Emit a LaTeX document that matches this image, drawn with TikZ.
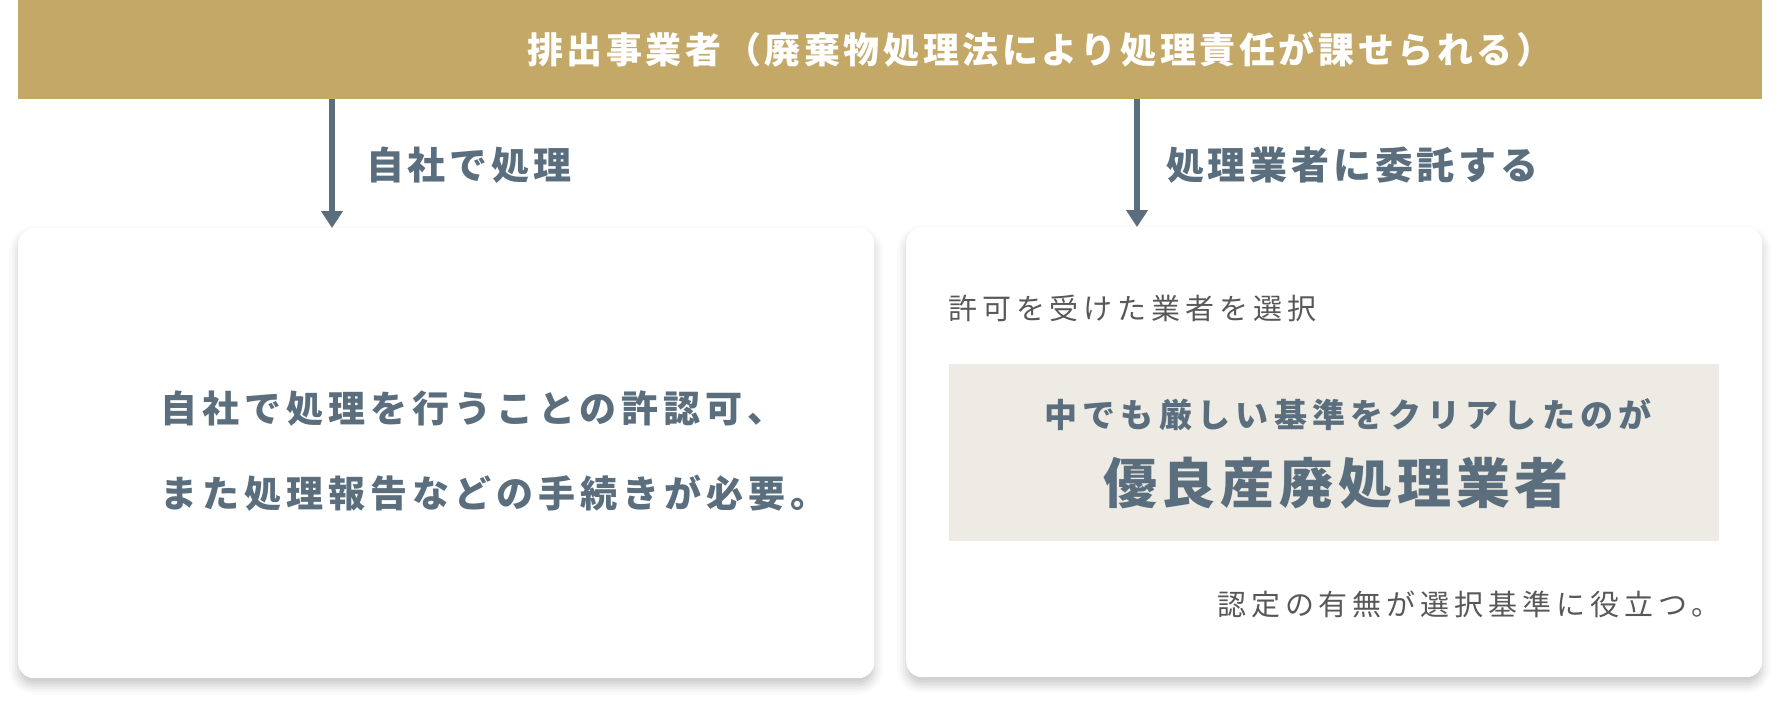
\documentclass[tikz,border=0pt]{standalone}
\usepackage{fontspec}
\usetikzlibrary{arrows.meta, positioning, shadows.blur}
\newfontfamily\jphead[LetterSpace=10]{Noto Sans CJK JP}
\newfontfamily\jplab[LetterSpace=10]{Noto Sans CJK JP}
\newfontfamily\jpbody[LetterSpace=13.5]{Noto Sans CJK JP}
\newfontfamily\jpnote[LetterSpace=17]{Noto Sans CJK JP}
\newfontfamily\jplead[LetterSpace=16]{Noto Sans CJK JP}
\newfontfamily\jpbig[LetterSpace=9]{Noto Sans CJK JP}
\definecolor{gold}{RGB}{196,168,103}
\definecolor{slate}{RGB}{91,110,125}
\definecolor{notegray}{RGB}{88,88,88}
\definecolor{sand}{RGB}{237,235,227}

\begin{document}
\begin{tikzpicture}[x=1pt, y=-1pt,
    card/.style={fill=white, rounded corners=16pt, anchor=north west,
        minimum width=856pt, minimum height=450pt,
        blur shadow={shadow xshift=0pt, shadow yshift=-7pt,
            shadow blur radius=9pt, shadow opacity=22}},
    flow/.style={draw=slate, line width=6pt, -{Triangle[width=21pt,length=17pt]}},
    txt/.style={inner sep=0pt, text=slate},
    branch/.style={txt, anchor=west, font=\jplab\bfseries\fontsize{38pt}{40pt}\selectfont},
    body/.style={txt, anchor=west, font=\jpbody\bfseries\fontsize{37pt}{40pt}\selectfont},
    note/.style={inner sep=0pt, text=notegray, anchor=west, font=\jpnote\fontsize{29pt}{31pt}\selectfont}]
    \useasboundingbox (0,0) rectangle (1780,702);

    \node[fill=gold, anchor=north west, minimum width=1744pt, minimum height=99pt, inner sep=0pt] (bar) at (18,0) {};
    \node[inner sep=0pt, anchor=west, text=white, font=\jphead\bfseries\fontsize{36pt}{38pt}\selectfont] (title) at (527,50)
        {排出事業者（廃棄物処理法により処理責任が課せられる）};

    \node[card] (own) at (18,228) {};
    \node[card] (firm) at (906,227) {};

    \coordinate (a1) at (332,0);
    \coordinate (a2) at (1137,0);
    \draw[flow] (bar.south -| a1) -- (own.north -| a1);
    \draw[flow] (bar.south -| a2) -- (firm.north -| a2);
    \node[branch] (ownlab) at (366,165) {自社で処理};
    \node[branch] (firmlab) at (1166,165) {処理業者に委託する};

    \node[body] (own1) at (160,409) {自社で処理を行うことの許認可、};
    \node[body] (own2) at (160,493) {また処理報告などの手続きが必要。};

    \node[note] (permit) at (948,308) {許可を受けた業者を選択};
    \node[fill=sand, anchor=north west, minimum width=770pt, minimum height=177pt, inner sep=0pt] (pick) at (949,364) {};
    \node[txt, font=\jplead\bfseries\fontsize{33pt}{35pt}\selectfont] (lead) at (1348,415) {中でも厳しい基準をクリアしたのが};
    \node[txt, font=\jpbig\bfseries\fontsize{54pt}{56pt}\selectfont] (best) at (1336,483) {優良産廃処理業者};
    \node[note] (merit) at (1217,604) {認定の有無が選択基準に役立つ。};
\end{tikzpicture}
\end{document}
